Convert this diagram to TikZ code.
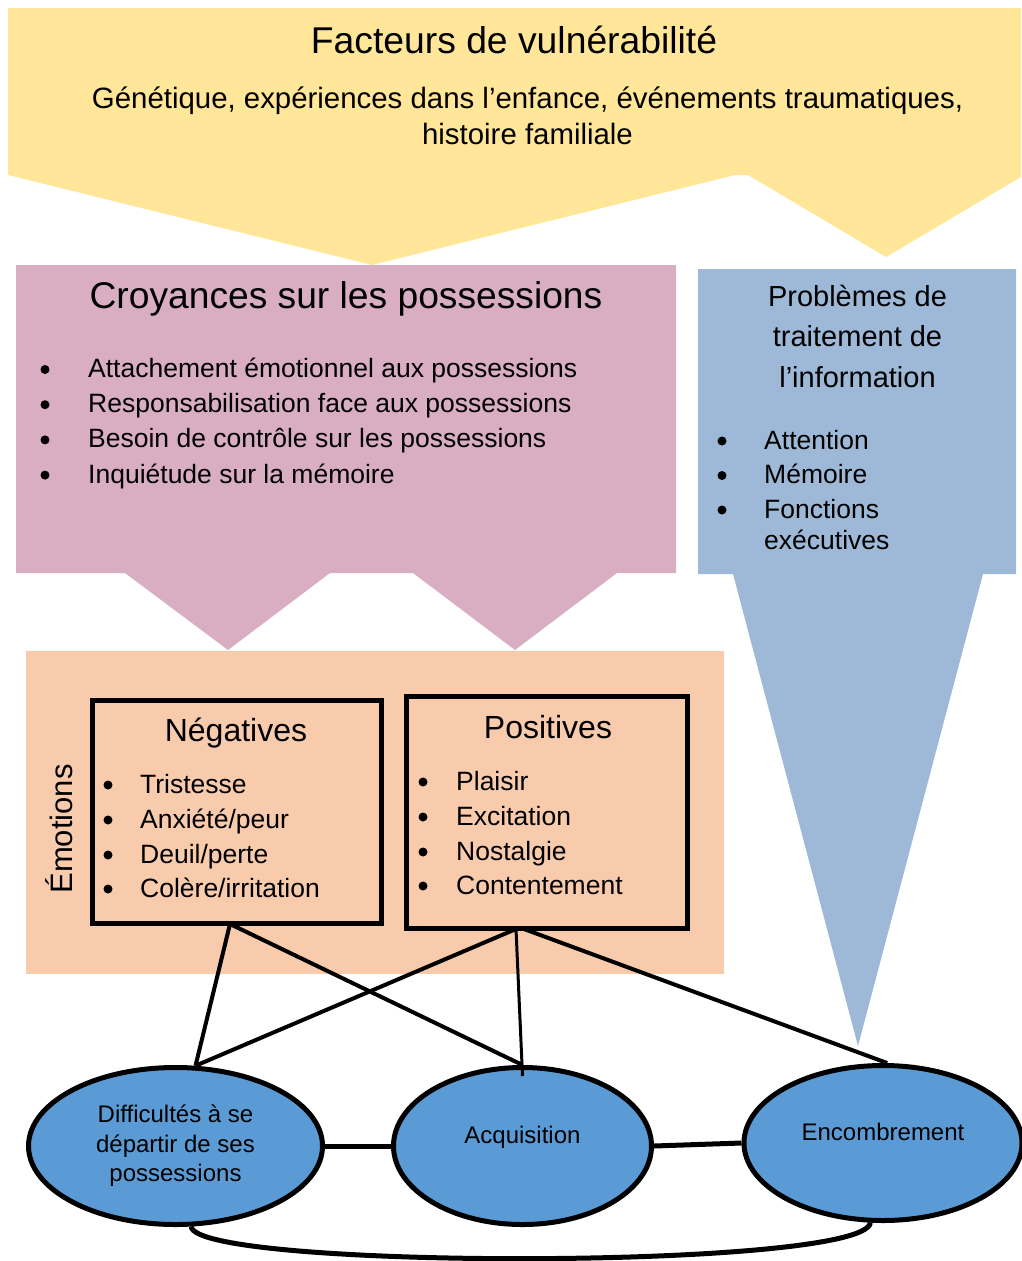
\documentclass[tikz,border=0pt]{standalone}
\usepackage{fontspec}
\setmainfont{Liberation Sans}
\usepackage{tikz}
\usetikzlibrary{shapes.geometric}
\definecolor{jaune}{HTML}{FFE699}
\definecolor{rose}{HTML}{D9AEC3}
\definecolor{bleugris}{HTML}{9DB9D7}
\definecolor{peche}{HTML}{F8CBAD}
\definecolor{bleu}{HTML}{5B9BD5}
\tikzstyle{txt}=[inner sep=0pt, anchor=base]
\tikzstyle{item}=[inner sep=0pt, anchor=base west, font=\fontsize{26.5}{31}\selectfont]
\tikzstyle{ebox}=[draw, line width=4.5pt, inner sep=0pt]
\tikzstyle{bulle}=[ellipse, draw, line width=5pt, fill=bleu, inner sep=0pt, font=\fontsize{24}{29.5}\selectfont, align=center]
\tikzstyle{lien}=[line width=4pt]

\begin{document}
\begin{tikzpicture}[x=1pt,y=-1pt]
\useasboundingbox (0,0) rectangle (1021,1261);
% facteurs de vulnerabilite
\fill[jaune] (8,8) -- (1021,8) -- (1021,177) -- (886,257) -- (748,175) -- (735,175) -- (372,265) -- (8,175) -- cycle;
\node[txt, font=\fontsize{37.3}{44}\selectfont] (vuln) at (514,53) {Facteurs de vulnérabilité};
\node[txt, font=\fontsize{29.4}{36}\selectfont] (vulna) at (527.5,108) {Génétique, expériences dans l’enfance, événements traumatiques,};
\node[txt, font=\fontsize{29.4}{36}\selectfont] (vulnb) at (527.5,144) {histoire familiale};
% croyances
\fill[rose] (16,265) -- (676,265) -- (676,573) -- (617,573) -- (515,650) -- (413,573) -- (330,573) -- (228,650) -- (125,573) -- (16,573) -- cycle;
\node[txt, font=\fontsize{37.2}{44}\selectfont] (croy) at (346,308) {Croyances sur les possessions};
\foreach \y in {369.5,404.7,439.9,475.1} \fill (45,\y) circle (4.5pt);
\node[item] (croy1) at (88,377.5) {Attachement émotionnel aux possessions};
\node[item] (croy2) at (88,412.7) {Responsabilisation face aux possessions};
\node[item] (croy3) at (88,447.9) {Besoin de contrôle sur les possessions};
\node[item] (croy4) at (88,483.1) {Inquiétude sur la mémoire};
% traitement de l'information
\fill[bleugris] (698,269) -- (1016,269) -- (1016,574) -- (983,574) -- (858,1046) -- (733,574) -- (698,574) -- cycle;
\node[txt, font=\fontsize{29}{36}\selectfont] (info1) at (857.5,306) {Problèmes de};
\node[txt, font=\fontsize{29}{36}\selectfont] (info2) at (857.5,346.5) {traitement de};
\node[txt, font=\fontsize{29}{36}\selectfont] (info3) at (857.5,387) {l’information};
\foreach \y in {441,475.5,510} \fill (722,\y) circle (4.5pt);
\node[item] (att) at (764,449) {Attention};
\node[item] (mem) at (764,483.5) {Mémoire};
\node[item] (fonc) at (764,518) {Fonctions};
\node[item] (exec) at (764,549) {exécutives};
% emotions
\fill[peche] (26,651) rectangle (724,974);
\node[txt, rotate=90, font=\fontsize{31}{37}\selectfont] (emo) at (72,829) {Émotions};
\node[ebox, minimum width=289pt, minimum height=223pt] (neg) at (237,812) {};
\node[ebox, minimum width=281pt, minimum height=232pt] (pos) at (547,812.5) {};
\node[txt, font=\fontsize{32}{38}\selectfont] (negt) at (236,741) {Négatives};
\node[txt, font=\fontsize{32}{38}\selectfont] (post) at (548,738) {Positives};
\foreach \y in {785,820,855,889} \fill (108,\y) circle (4.5pt);
\node[item] (neg1) at (140,793) {Tristesse};
\node[item] (neg2) at (140,828) {Anxiété/peur};
\node[item] (neg3) at (140,863) {Deuil/perte};
\node[item] (neg4) at (140,897) {Colère/irritation};
\foreach \y in {782,817,852,886} \fill (423,\y) circle (4.5pt);
\node[item] (pos1) at (456,790) {Plaisir};
\node[item] (pos2) at (456,825) {Excitation};
\node[item] (pos3) at (456,860) {Nostalgie};
\node[item] (pos4) at (456,894) {Contentement};
% comportements
\node[bulle, minimum width=294pt, minimum height=157pt] (diff) at (175.5,1146) {Difficultés à se\\départir de ses\\possessions};
\node[bulle, minimum width=258pt, minimum height=157pt, text depth=23pt] (acq) at (522.5,1146) {Acquisition};
\node[bulle, minimum width=278pt, minimum height=155pt, text depth=21.5pt] (enc) at (883,1143) {Encombrement};
\coordinate (negpied) at (230,924);
\coordinate (pospied) at (516,929);
\coordinate (pospiedb) at (524,929);
\draw[lien] (negpied) -- (diff.76);
\draw[lien] (negpied) -- (acq.north);
\draw[lien] (pospied) -- (diff.76);
\draw[line width=3pt] (pospied) -- ([yshift=-11pt]acq.north);
\draw[lien] (pospiedb) -- (enc.87);
\draw[line width=5pt] (diff.east) -- (acq.west);
\draw[line width=5pt] (acq.east) -- (enc.west);
\draw[line width=5pt] (diff.-79) .. controls (196,1270) and (864,1270) .. (enc.-99);
\end{tikzpicture}
\end{document}
